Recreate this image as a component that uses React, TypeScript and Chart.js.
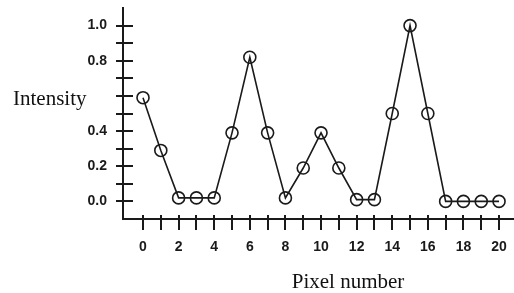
import { useEffect, useRef } from "react";
import { Chart, registerables } from "chart.js";

Chart.register(...registerables);

const pixelNumbers = [0, 1, 2, 3, 4, 5, 6, 7, 8, 9, 10, 11, 12, 13, 14, 15, 16, 17, 18, 19, 20];
const intensity = [0.59, 0.29, 0.02, 0.02, 0.02, 0.39, 0.82, 0.39, 0.02, 0.19, 0.39, 0.19, 0.01, 0.01, 0.5, 1.0, 0.5, 0.0, 0.0, 0.0, 0.0];
const yTickValues = [0, 0.1, 0.2, 0.3, 0.4, 0.5, 0.6, 0.7, 0.8, 0.9, 1.0];
const yTickLabels = ["0.0", "", "0.2", "", "0.4", "", "", "", "0.8", "", "1.0"];
const xTickValues = [0, 1, 2, 3, 4, 5, 6, 7, 8, 9, 10, 11, 12, 13, 14, 15, 16, 17, 18, 19, 20];
const xTickLabels = ["0", "", "2", "", "4", "", "6", "", "8", "", "10", "", "12", "", "14", "", "16", "", "18", "", "20"];
const yAxisTitle = "Intensity";
const xAxisTitle = "Pixel number";

const INK = "#1a1a1a";

export default function App() {
  const ref = useRef<HTMLCanvasElement | null>(null);

  useEffect(() => {
    if (!ref.current) return;
    const crossTicks = {
      id: "crossTicks",
      afterDraw(chart: any) {
        const ctx = chart.ctx;
        const xs = chart.scales.x;
        const ys = chart.scales.y;
        const area = chart.chartArea;
        ctx.save();
        ctx.strokeStyle = INK;
        ctx.lineWidth = 2;
        yTickValues.forEach((v) => {
          const y = Math.round(ys.getPixelForValue(v));
          ctx.beginPath();
          ctx.moveTo(area.left - 7, y);
          ctx.lineTo(area.left + 10, y);
          ctx.stroke();
        });
        xTickValues.forEach((v) => {
          const x = Math.round(xs.getPixelForValue(v));
          ctx.beginPath();
          ctx.moveTo(x, area.bottom - 4);
          ctx.lineTo(x, area.bottom + 11);
          ctx.stroke();
        });
        ctx.fillStyle = "#111";
        ctx.font = '21px "Liberation Serif", "Times New Roman", serif';
        ctx.textBaseline = "alphabetic";
        ctx.textAlign = "left";
        ctx.fillText(yAxisTitle, 13, 105);
        ctx.textAlign = "center";
        ctx.fillText(xAxisTitle, 348, 288);
        ctx.restore();
      },
    };

    const chart = new Chart(ref.current, {
      type: "line",
      data: {
        datasets: [
          {
            data: pixelNumbers.map((x, i) => ({ x, y: intensity[i] })),
            borderColor: INK,
            borderWidth: 1.6,
            backgroundColor: "rgba(0,0,0,0)",
            pointRadius: 6,
            pointBorderWidth: 1.6,
            pointBorderColor: INK,
            pointBackgroundColor: "rgba(0,0,0,0)",
            tension: 0,
            clip: false as any,
          },
        ],
      },
      options: {
        animation: false,
        responsive: false,
        layout: { autoPadding: false, padding: { top: 8, right: 0, left: 0, bottom: 0 } },
        plugins: { legend: { display: false }, tooltip: { enabled: false }, title: { display: false } },
        scales: {
          x: {
            type: "linear",
            min: -1.124,
            max: 20.84,
            afterBuildTicks: (s: any) => {
              s.ticks = xTickValues.map((v) => ({ value: v }));
            },
            afterFit: (s: any) => {
              s.height = 74;
              s.paddingLeft = 0;
              s.paddingRight = 0;
            },
            ticks: {
              autoSkip: false,
              maxRotation: 0,
              padding: 20,
              color: INK,
              font: { family: '"Liberation Sans", Arial, sans-serif', size: 14, weight: "bold" },
              callback: (v: any) => {
                const i = xTickValues.indexOf(Number(v));
                return i >= 0 ? xTickLabels[i] : "";
              },
            },
            grid: { display: false, drawTicks: false, tickLength: 0 },
            border: { display: true, color: INK, width: 2 },
          },
          y: {
            type: "linear",
            min: -0.1,
            max: 1.1,
            afterBuildTicks: (s: any) => {
              s.ticks = yTickValues.map((v) => ({ value: v }));
            },
            afterFit: (s: any) => {
              s.width = 123;
              s.paddingTop = 0;
              s.paddingBottom = 0;
            },
            ticks: {
              autoSkip: false,
              padding: 16,
              color: INK,
              font: { family: '"Liberation Sans", Arial, sans-serif', size: 14, weight: "bold" },
              callback: (v: any) => {
                const i = yTickValues.findIndex((t) => Math.abs(t - Number(v)) < 1e-6);
                return i >= 0 ? yTickLabels[i] : "";
              },
            },
            grid: { display: false, drawTicks: false, tickLength: 0 },
            border: { display: true, color: INK, width: 2 },
          },
        },
      },
      plugins: [crossTicks],
    });
    return () => chart.destroy();
  }, []);

  return (
    <div style={{ position: "absolute", left: 0, top: 0, width: 514, height: 293, background: "#fff" }}>
      <canvas ref={ref} width={514} height={293} style={{ display: "block" }} />
    </div>
  );
}
